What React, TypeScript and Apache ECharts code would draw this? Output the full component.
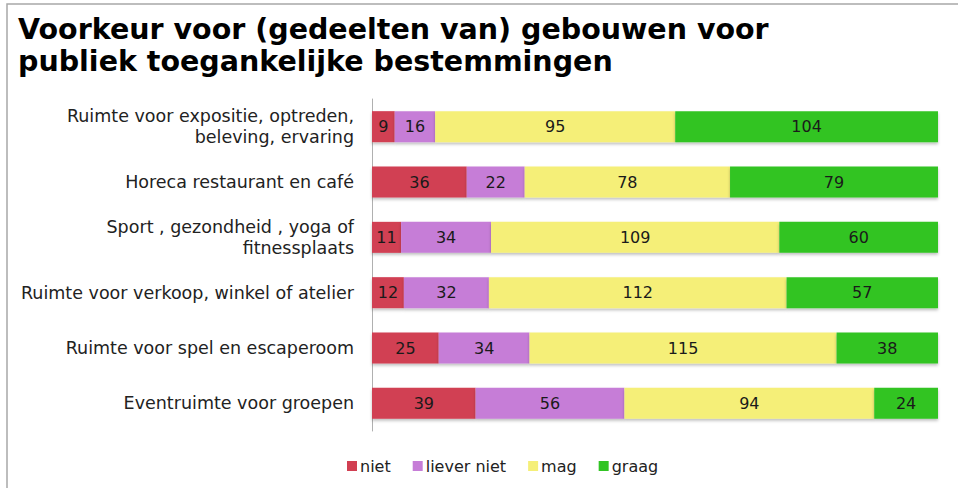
import React, { useEffect, useRef } from "react";
import * as echarts from "echarts";

const categories = [
  "Ruimte voor expositie, optreden,\nbeleving, ervaring",
  "Horeca restaurant en café",
  "Sport , gezondheid , yoga of\nfitnessplaats",
  "Ruimte voor verkoop, winkel of atelier",
  "Ruimte voor spel en escaperoom",
  "Eventruimte voor groepen",
];
const seriesNames = ["niet", "liever niet", "mag", "graag"];
const niet = [9, 36, 11, 12, 25, 39];
const lieverNiet = [16, 22, 34, 32, 34, 56];
const mag = [95, 78, 109, 112, 115, 94];
const graag = [104, 79, 60, 57, 38, 24];
const colors = ["#d13f52", "#c67dd7", "#f5ef78", "#32c424"];

export default function App() {
  const ref = useRef<HTMLDivElement>(null);
  useEffect(() => {
    document.body.style.margin = "0";
    const chart = echarts.init(ref.current!, null, { renderer: "svg" });
    const all = [niet, lieverNiet, mag, graag];
    const totals = categories.map((_, i) => all.reduce((s, a) => s + a[i], 0));
    const font = "'DejaVu Sans', Verdana, sans-serif";
    chart.setOption({
      animation: false,
      textStyle: { fontFamily: font },
      graphic: [
        {
          type: "rect",
          shape: { x: 7, y: 4, width: 1000, height: 600 },
          style: { fill: "none", stroke: "#a8a8a8", lineWidth: 1.5 },
          silent: true,
        },
        {
          type: "text",
          left: 18,
          top: 13,
          style: {
            text: "Voorkeur voor (gedeelten van) gebouwen voor\npubliek toegankelijke bestemmingen",
            fontFamily: font,
            fontWeight: "bold",
            fontSize: 28.5,
            lineHeight: 32,
            fill: "#000",
          },
        },
      ],
      legend: {
        bottom: 9,
        left: 342,
        itemWidth: 10,
        itemHeight: 10,
        itemGap: 22,
        icon: "rect",
        textStyle: { fontSize: 16, color: "#222", fontFamily: font, padding: [0, 0, 0, -2] },
        data: seriesNames,
      },
      grid: { left: 372, right: 20, top: 99, bottom: 57 },
      xAxis: { type: "value", min: 0, max: 100, show: false },
      yAxis: {
        type: "category",
        inverse: true,
        data: categories,
        axisLine: { show: true, lineStyle: { color: "#b0b0b0" } },
        axisTick: { show: false },
        axisLabel: {
          fontSize: 17.5,
          color: "#222",
          lineHeight: 21,
          margin: 18,
          fontFamily: font,
        },
      },
      series: all.map((arr, si) => ({
        name: seriesNames[si],
        type: "bar",
        stack: "total",
        barWidth: 31,
        itemStyle: {
          color: colors[si],
          shadowColor: "rgba(0,0,0,0.25)",
          shadowBlur: 3,
          shadowOffsetY: 2,
        },
        label: {
          show: true,
          position: "inside",
          color: "#1a1a1a",
          fontSize: 16,
          fontFamily: font,
          formatter: (p: any) => String(arr[p.dataIndex]),
        },
        data: arr.map((v, i) => (v / totals[i]) * 100),
      })),
    });
    return () => chart.dispose();
  }, []);
  return <div ref={ref} style={{ width: 958, height: 488 }} />;
}
